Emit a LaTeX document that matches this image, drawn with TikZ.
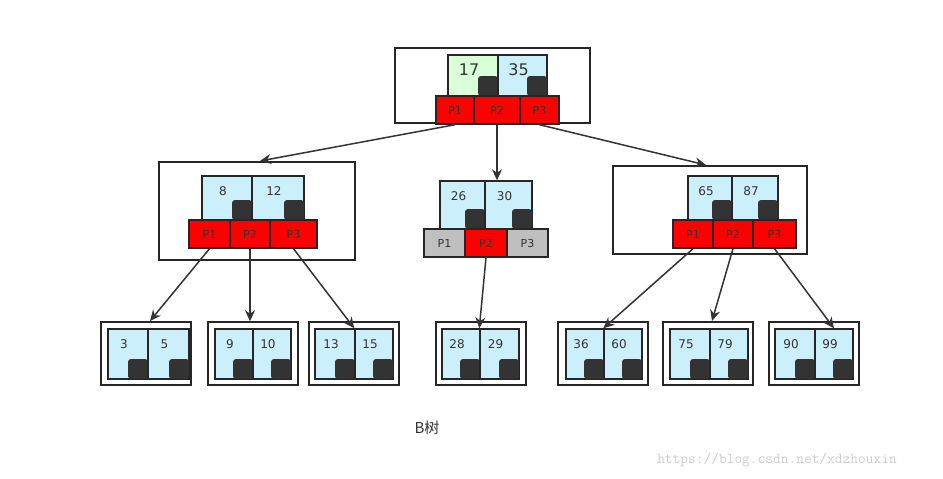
\documentclass[tikz,border=0pt]{standalone}
\usepackage{fontspec}
\setmainfont{DejaVu Sans}
\newfontfamily\cjk{Noto Sans CJK SC}
\usetikzlibrary{arrows.meta}
\tikzset{
  outerbox/.style={draw=black!85,line width=1.5pt,inner sep=0pt},
  keycell/.style={draw=black!85,line width=1.4pt,fill=cyan!20,inner sep=0pt},
  greenkey/.style={keycell,fill=green!15},
  ptrcell/.style={draw=black!85,line width=1.4pt,fill=red,inner sep=0pt,text=black!80,font=\fontsize{11}{11}\selectfont},
  greycell/.style={ptrcell,fill=black!25},
  ptrtext/.style={ptrcell,draw=none,fill=none},
  knob/.style={fill=black!80,rounded corners=3pt},
  link/.style={draw=black!80,line width=1.5pt,-{Stealth[length=11pt,width=10pt]}},
  keytext/.style={font=\fontsize{12}{12}\selectfont,text=black!80}
}
% cell from corners: name, x1, y1, x2, y2, style
\newcommand{\cell}[6]{\node[#6,minimum width={(#4-#2)*1pt},minimum height={(#5-#3)*1pt}] (#1) at ({(#2+#4)/2},{(#3+#5)/2}) {};}
% key cell with number and knob
\newcommand{\keybox}[7][keycell]{\cell{#2}{#3}{#4}{#5}{#6}{#1}
  \fill[knob] ({#5-20},{#6-20}) rectangle (#5,#6);
  \node[keytext] at ({(#3+#5)/2-4},{#4+15}) {#7};}
\begin{document}
\begin{tikzpicture}[x=1pt,y=-1pt]
  \useasboundingbox (0,0) rectangle (943,479);

  % root
  \cell{rootbox}{395}{48}{590}{123}{outerbox}
  \keybox[greenkey]{rk1}{448}{55}{498}{96}{\fontsize{16}{16}\selectfont 17}
  \keybox{rk2}{498}{55}{547}{96}{\fontsize{16}{16}\selectfont 35}
  \cell{rp1}{436}{96}{474}{124}{ptrcell} \node[ptrtext] at (rp1) {P1};
  \cell{rp2}{474}{96}{520}{124}{ptrcell} \node[ptrtext] at (rp2) {P2};
  \cell{rp3}{520}{96}{559}{124}{ptrcell} \node[ptrtext] at (rp3) {P3};

  % left child
  \cell{lbox}{159}{162}{355}{260}{outerbox}
  \keybox{lk1}{202}{176}{252}{220}{8}
  \keybox{lk2}{252}{176}{304}{220}{12}
  \cell{lp1}{189}{220}{230}{248}{ptrcell} \node[ptrtext] at (lp1) {P1};
  \cell{lp2}{230}{220}{270}{248}{ptrcell} \node[ptrtext] at (lp2) {P2};
  \cell{lp3}{270}{220}{317}{248}{ptrcell} \node[ptrtext] at (lp3) {P3};

  % middle child
  \keybox{mk1}{440}{181}{485}{229}{26}
  \keybox{mk2}{485}{181}{532}{229}{30}
  \cell{mp1}{424}{229}{465}{257}{greycell} \node[ptrtext] at (mp1) {P1};
  \cell{mp2}{465}{229}{507}{257}{ptrcell} \node[ptrtext] at (mp2) {P2};
  \cell{mp3}{507}{229}{548}{257}{greycell} \node[ptrtext] at (mp3) {P3};

  % right child
  \cell{rbox}{613}{166}{807}{254}{outerbox}
  \keybox{qk1}{688}{176}{732}{220}{65}
  \keybox{qk2}{732}{176}{778}{220}{87}
  \cell{qp1}{673}{220}{713}{248}{ptrcell} \node[ptrtext] at (qp1) {P1};
  \cell{qp2}{713}{220}{753}{248}{ptrcell} \node[ptrtext] at (qp2) {P2};
  \cell{qp3}{753}{220}{796}{248}{ptrcell} \node[ptrtext] at (qp3) {P3};

  % leaves
  \foreach \leaf/\xo/\xa/\xb/\xc/\ka/\kb in {
      leafa/101/108/148/189/3/5, leafb/208/215/253/291/9/10,
      leafc/309/315/355/393/13/15, leafd/436/442/480/519/28/29,
      leafe/558/566/604/642/36/60, leaff/663/670/710/748/75/79,
      leafg/769/775/815/853/90/99} {
    \cell{\leaf}{\xo}{322}{\xo+90}{385}{outerbox}
    \keybox{\leaf k1}{\xa}{329}{\xb}{379}{\ka}
    \keybox{\leaf k2}{\xb}{329}{\xc}{379}{\kb}
  }

  % links
  \draw[link] (rp1.south) -- (260,161);
  \draw[link] (rp2.south) -- (rp2.south |- mk1.north);
  \draw[link] (rp3.south) -- (706,165);
  \draw[link] (lp1.south) -- (150,321);
  \draw[link] (lp2.south) -- (lp2.south |- leafb.north);
  \draw[link] (lp3.south) -- (leafck2.north west);
  \draw[link] (mp2.south) -- (leafdk2.north west);
  \draw[link] (qp1.south) -- (leafek2.north west);
  \draw[link] (qp2.south) -- (712,321);
  \draw[link] (qp3.south) -- (leafgk2.north);

  \node[font=\cjk\fontsize{15}{15}\selectfont,text=black!80] (title) at (427,428) {B树};
  \node[font=\ttfamily\fontsize{15}{15}\selectfont,text=black!20] (mark) at (777,460) {https://blog.csdn.net/xdzhouxin};
\end{tikzpicture}
\end{document}
